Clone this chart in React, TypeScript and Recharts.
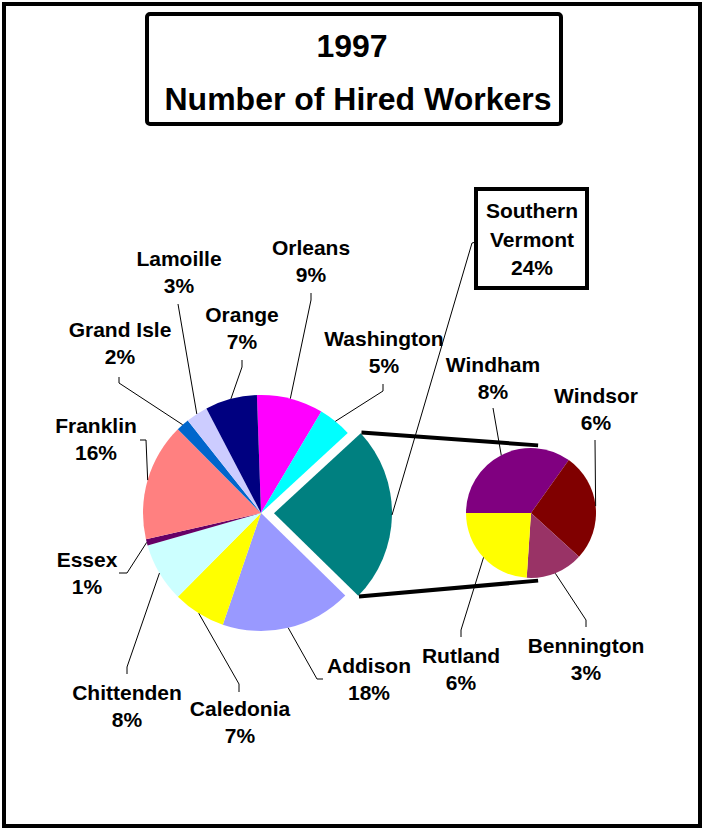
import React from 'react';
import { PieChart, Pie, Cell } from 'recharts';

// county shares of hired workers, 1997 (percent), clockwise from the top
const counties = [
  'Orleans', 'Washington', 'Southern Vermont', 'Addison', 'Caledonia',
  'Chittenden', 'Essex', 'Franklin', 'Grand Isle', 'Lamoille', 'Orange',
];
const countyShare = [9.1, 4.6, 24.2, 17.9, 7.2, 8.1, 0.9, 16.1, 1.8, 3.0, 7.1];

// breakdown of the Southern Vermont slice
const southern = ['Windham', 'Windsor', 'Bennington', 'Rutland'];
const southernShare = [8.3, 6.4, 3.4, 5.7];

const SPLIT = 'Southern Vermont';

const W = 702;
const H = 828;
const CX = 261, CY = 513, R = 118, START = 92, EXPLODE = 13;
const CX2 = 531, CY2 = 513, R2 = 65;
const FONT = '"Liberation Sans", Arial, Helvetica, sans-serif';
const RAD = Math.PI / 180;
const LINE = 27;

const COLORS: Record<string, string> = {
  Orleans: '#FF00FF',
  Washington: '#00FFFF',
  'Southern Vermont': '#008080',
  Addison: '#9999FF',
  Caledonia: '#FFFF00',
  Chittenden: '#CCFFFF',
  Essex: '#660066',
  Franklin: '#FF8080',
  'Grand Isle': '#0066CC',
  Lamoille: '#CCCCFF',
  Orange: '#000080',
  Windham: '#800080',
  Windsor: '#800000',
  Bennington: '#993366',
  Rutland: '#FFFF00',
};

// label placement (centre x, first baseline) and leader line start/elbow
const LABELS: Record<string, { x: number; y: number; lead: number[][] }> = {
  Orleans: { x: 311, y: 255, lead: [[311, 293], [311, 300]] },
  Washington: { x: 384, y: 346, lead: [[383, 384], [383, 391]] },
  Orange: { x: 242, y: 322, lead: [[242, 360], [242, 367]] },
  Lamoille: { x: 179, y: 266, lead: [[178, 304], [178, 304]] },
  'Grand Isle': { x: 120, y: 337, lead: [[119, 377], [119, 383]] },
  Franklin: { x: 96, y: 433, lead: [[140, 440], [146, 440]] },
  Essex: { x: 87, y: 567, lead: [[119, 573], [127, 573]] },
  Chittenden: { x: 127, y: 700, lead: [[127, 674], [127, 667]] },
  Caledonia: { x: 240, y: 716, lead: [[239, 692], [239, 684]] },
  Addison: { x: 369, y: 673, lead: [[323, 679], [317, 679]] },
  'Southern Vermont': { x: 532, y: 218, lead: [[476, 242], [472, 243]] },
  Windham: { x: 493, y: 372, lead: [[493, 408], [493, 408]] },
  Windsor: { x: 596, y: 403, lead: [[595, 440], [595, 440]] },
  Bennington: { x: 586, y: 653, lead: [[586, 627], [586, 620]] },
  Rutland: { x: 461, y: 663, lead: [[461, 637], [461, 630]] },
};

const total = countyShare.reduce((a, b) => a + b, 0);
const mainData = counties.map((name, i) => ({ name, value: countyShare[i] }));
const subData = southern.map((name, i) => ({ name, value: southernShare[i] }));

// offset of the pulled-out slice, along its middle angle
const splitIdx = counties.indexOf(SPLIT);
const before = countyShare.slice(0, splitIdx).reduce((a, b) => a + b, 0);
const splitMid = START - ((before + countyShare[splitIdx] / 2) / total) * 360;
const EX = CX + EXPLODE * Math.cos(splitMid * RAD);
const EY = CY - EXPLODE * Math.sin(splitMid * RAD);

const textStyle = { fontFamily: FONT, fontWeight: 700, fontSize: 21, fill: '#000' };
const titleStyle = { fontFamily: FONT, fontWeight: 700, fontSize: 32, fill: '#000' };

const polar = (cx: number, cy: number, r: number, a: number) => [
  cx + r * Math.cos(a * RAD),
  cy - r * Math.sin(a * RAD),
];

const Leader = ({ lead, end }: { lead: number[][]; end: number[] }) => (
  <polyline
    points={[...lead, end].map((p) => p.join(',')).join(' ')}
    fill="none"
    stroke="#000"
    strokeWidth={1}
  />
);

const makeLabel = (mode: 'main' | 'split' | 'sub') => (props: any) => {
  const { cx, cy, midAngle, outerRadius, startAngle, endAngle, index } = props;
  const name = mode === 'sub' ? southern[index] : counties[index];
  const isSplit = name === SPLIT;
  if (mode === 'main' && isSplit) return null;
  if (mode === 'split' && !isSplit) return null;
  const share = mode === 'sub' ? southernShare[index] : countyShare[index];
  const pct = `${Math.round((share / total) * 100)}%`;
  const cfg = LABELS[name];
  const end = polar(cx, cy, outerRadius, midAngle);

  if (isSplit) {
    const a = polar(cx, cy, outerRadius + 1, startAngle);
    const b = polar(cx, cy, outerRadius + 1, endAngle);
    const topEnd = polar(CX2, CY2, R2 + 3, 84);
    const botEnd = polar(CX2, CY2, R2 + 3, -84);
    const words = name.split(' ');
    return (
      <g key={`lbl-${name}`}>
        <line x1={a[0]} y1={a[1]} x2={topEnd[0]} y2={topEnd[1]} stroke="#000" strokeWidth={4} />
        <line x1={b[0]} y1={b[1]} x2={botEnd[0]} y2={botEnd[1]} stroke="#000" strokeWidth={4} />
        <Leader lead={cfg.lead} end={end} />
        <rect x={476} y={189} width={111} height={99} fill="#fff" stroke="#000" strokeWidth={4} />
        <text x={cfg.x} y={cfg.y} textAnchor="middle" style={textStyle}>
          <tspan x={cfg.x}>{words[0]}</tspan>
          <tspan x={cfg.x} dy={29}>{words[1]}</tspan>
          <tspan x={cfg.x} dy={28}>{pct}</tspan>
        </text>
      </g>
    );
  }

  return (
    <g key={`lbl-${name}`}>
      <Leader lead={cfg.lead} end={end} />
      <text x={cfg.x} y={cfg.y} textAnchor="middle" style={textStyle}>
        <tspan x={cfg.x}>{name}</tspan>
        <tspan x={cfg.x} dy={LINE}>{pct}</tspan>
      </text>
    </g>
  );
};

export default function App() {
  return (
    <div style={{ position: 'absolute', left: 0, top: 0, width: W, height: H, background: '#fff' }}>
      <svg width={W} height={H} style={{ position: 'absolute', left: 0, top: 0 }}>
        <rect x={4} y={4} width={696} height={822} fill="#fff" stroke="#000" strokeWidth={4} />
        <rect x={147} y={14} width={414} height={110} rx={3} fill="#fff" stroke="#000" strokeWidth={4} />
        <text x={352} y={57} textAnchor="middle" style={titleStyle}>
          1997
        </text>
        <text x={358} y={110} textAnchor="middle" style={titleStyle}>
          Number of Hired Workers
        </text>
      </svg>
      <div style={{ position: 'absolute', left: 0, top: 0 }}>
        <PieChart width={W} height={H} margin={{ top: 0, right: 0, bottom: 0, left: 0 }}>
          <Pie
            data={mainData}
            dataKey="value"
            nameKey="name"
            cx={CX}
            cy={CY}
            outerRadius={R}
            startAngle={START}
            endAngle={START - 360}
            stroke="none"
            label={makeLabel('main')}
            labelLine={false}
            isAnimationActive={false}
          >
            {mainData.map((d) => (
              <Cell key={d.name} fill={d.name === SPLIT ? 'none' : COLORS[d.name]} />
            ))}
          </Pie>
          <Pie
            data={mainData}
            dataKey="value"
            nameKey="name"
            cx={EX}
            cy={EY}
            outerRadius={R}
            startAngle={START}
            endAngle={START - 360}
            stroke="none"
            label={makeLabel('split')}
            labelLine={false}
            isAnimationActive={false}
          >
            {mainData.map((d) => (
              <Cell key={d.name} fill={d.name === SPLIT ? COLORS[d.name] : 'none'} />
            ))}
          </Pie>
          <Pie
            data={subData}
            dataKey="value"
            nameKey="name"
            cx={CX2}
            cy={CY2}
            outerRadius={R2}
            startAngle={180}
            endAngle={-180}
            stroke="none"
            label={makeLabel('sub')}
            labelLine={false}
            isAnimationActive={false}
          >
            {subData.map((d) => (
              <Cell key={d.name} fill={COLORS[d.name]} />
            ))}
          </Pie>
        </PieChart>
      </div>
    </div>
  );
}
